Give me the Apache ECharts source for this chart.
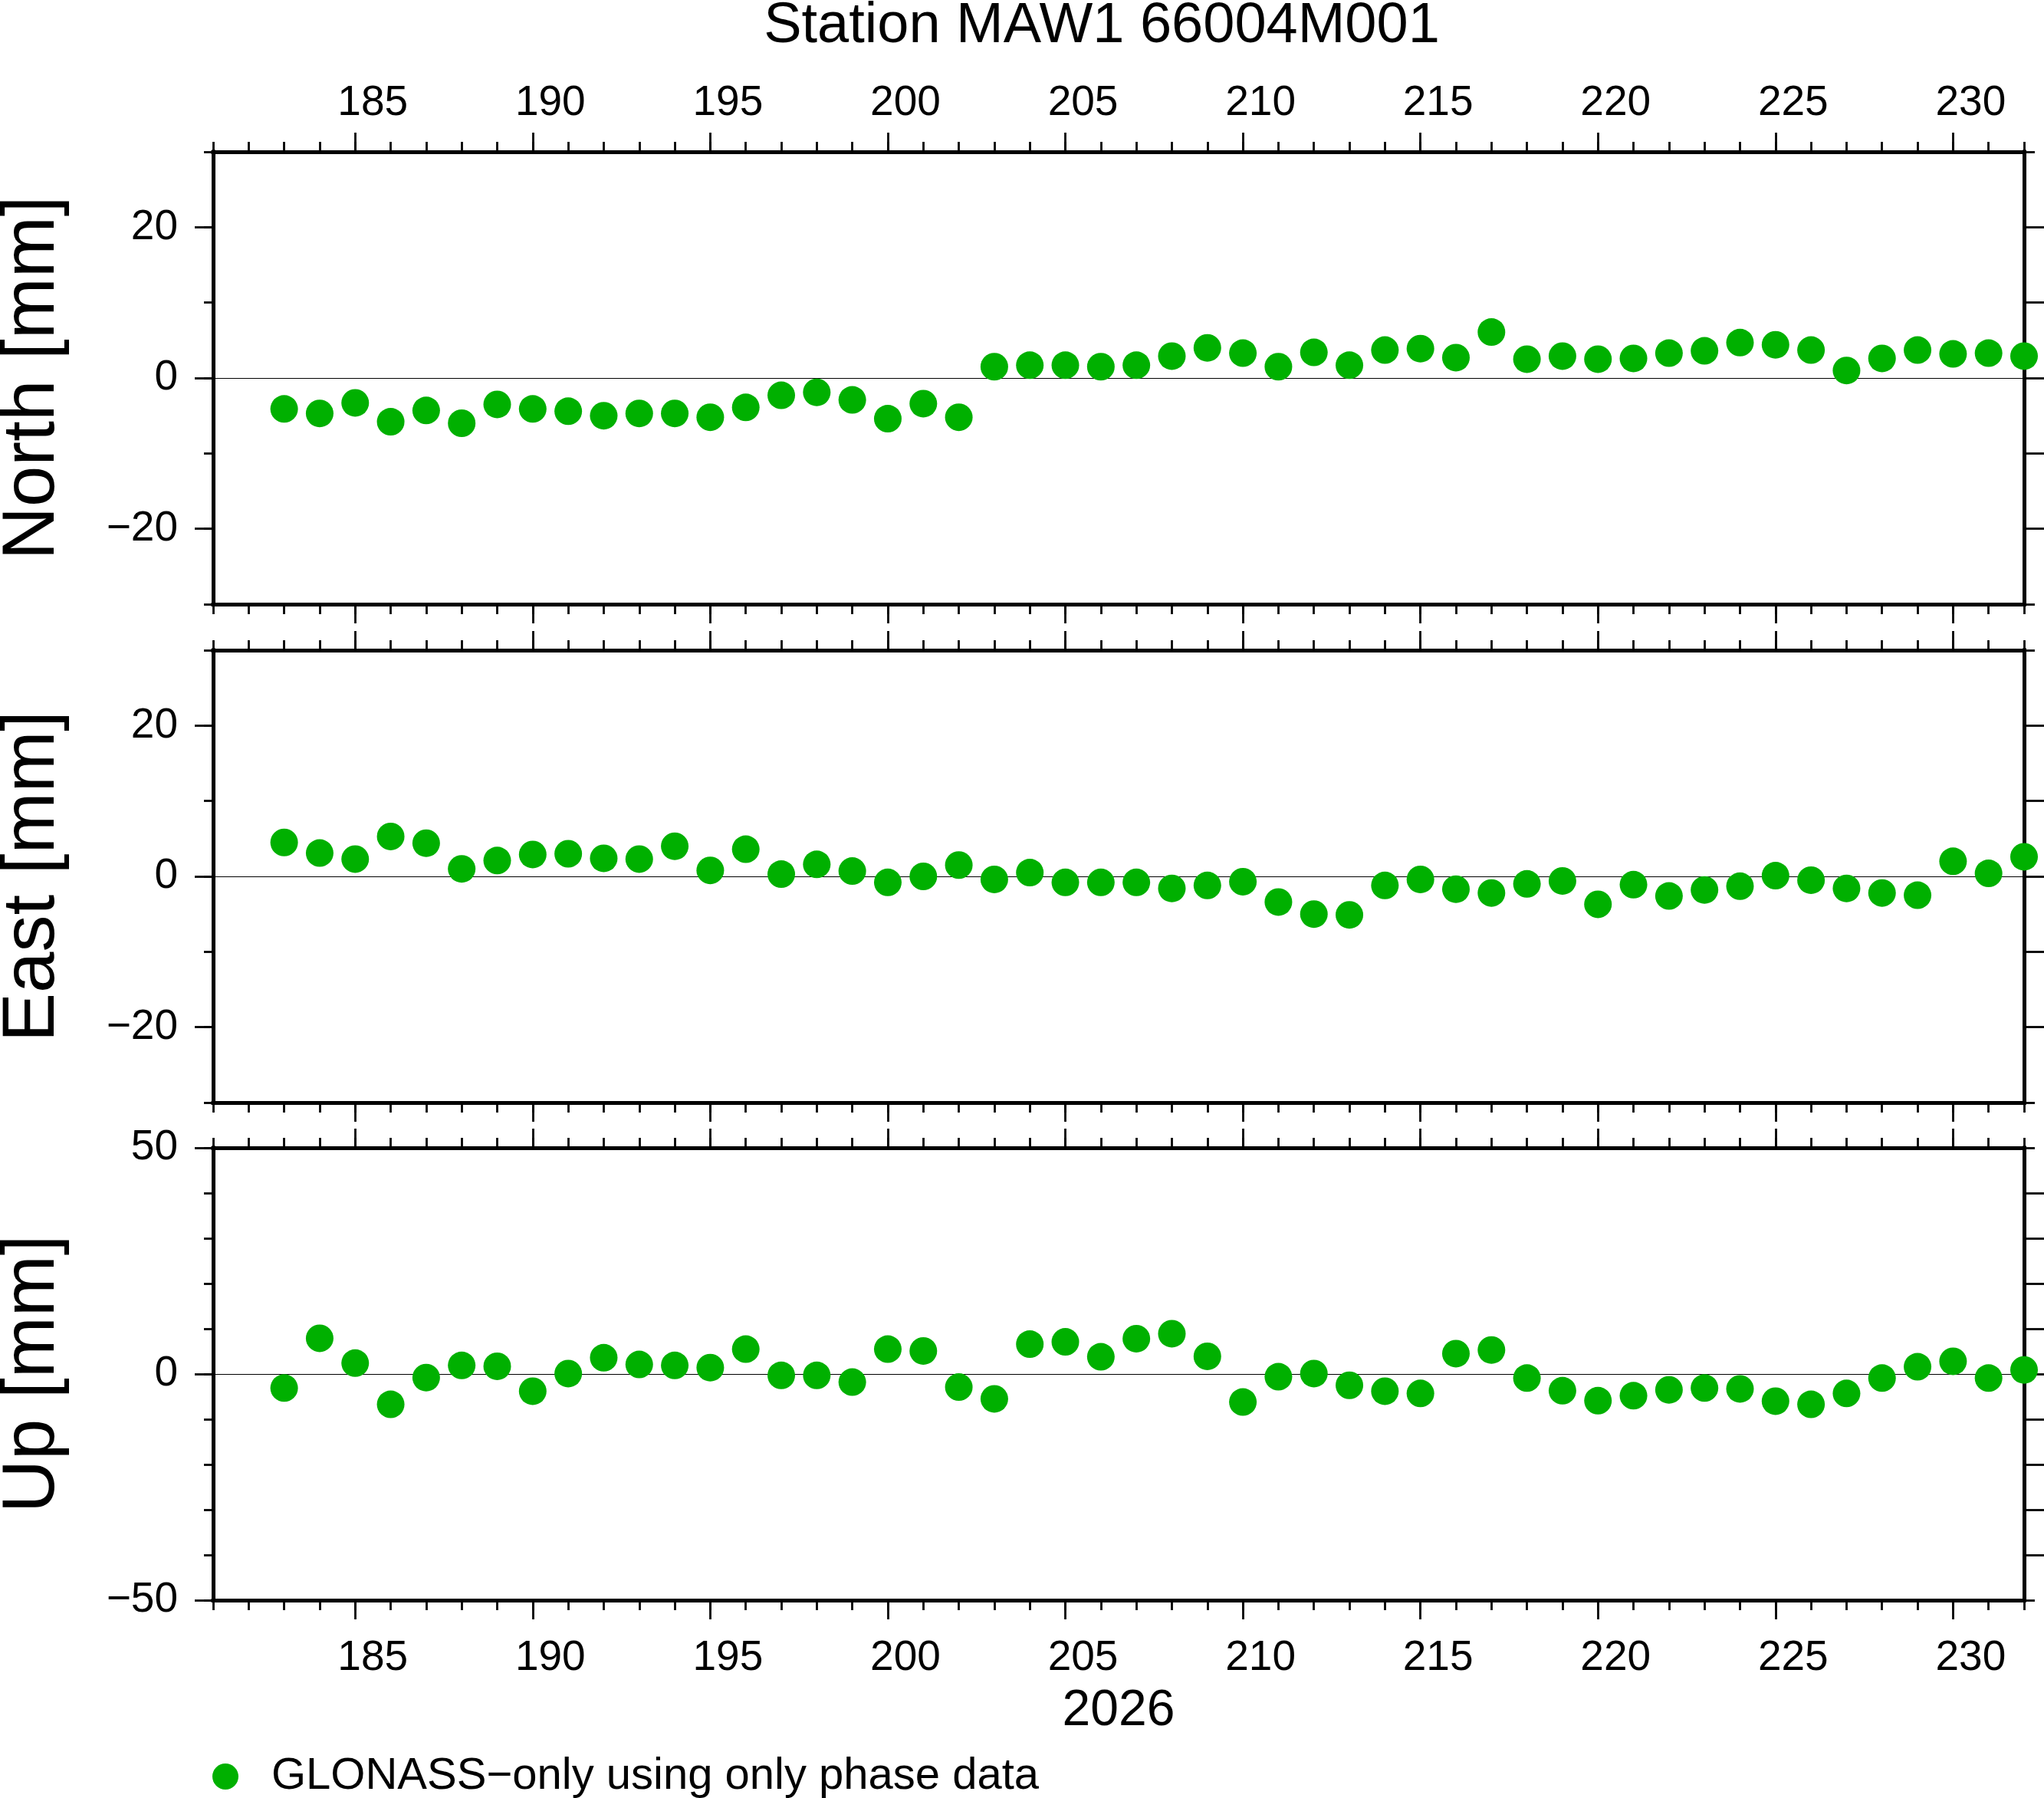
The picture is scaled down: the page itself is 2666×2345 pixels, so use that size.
<!DOCTYPE html>
<html><head><meta charset="utf-8">
<script src="https://cdn.jsdelivr.net/npm/echarts@6/dist/echarts.min.js"></script>
<style>html,body{margin:0;padding:0;background:#fff}#c{width:2666px;height:2345px}</style>
</head><body><div id="c"></div>
<script>
// ---- data (day of year 2026) ----
const days = [183,184,185,186,187,188,189,190,191,192,193,194,195,196,197,198,199,200,201,202,
  203,204,205,206,207,208,209,210,211,212,213,214,215,216,217,218,219,220,221,222,
  223,224,225,226,227,228,229,230,231,232];
const north = [-4.1,-4.7,-3.3,-5.8,-4.3,-6.0,-3.5,-4.1,-4.4,-5.0,-4.7,-4.7,-5.2,-3.9,-2.3,-1.9,-2.9,-5.4,-3.4,-5.2,
  1.5,1.7,1.7,1.5,1.7,2.9,4.0,3.3,1.5,3.4,1.7,3.7,3.9,2.7,6.1,2.5,2.9,2.5,2.6,3.3,
  3.6,4.7,4.4,3.7,1.0,2.6,3.7,3.2,3.3,2.9];
const east = [4.5,3.1,2.3,5.3,4.4,1.0,2.1,2.9,3.0,2.4,2.3,4.0,0.8,3.6,0.3,1.6,0.7,-0.8,0.0,1.5,
  -0.4,0.5,-0.8,-0.8,-0.8,-1.6,-1.2,-0.7,-3.4,-5.0,-5.1,-1.2,-0.4,-1.7,-2.2,-1.0,-0.6,-3.7,-1.1,-2.6,
  -1.8,-1.3,0.1,-0.5,-1.6,-2.2,-2.5,2.0,0.4,2.6];
const up = [-3.1,7.9,2.4,-6.7,-0.8,1.9,1.7,-3.8,0.1,3.6,2.1,1.9,1.4,5.5,-0.3,-0.3,-1.8,5.5,5.1,-2.9,
  -5.5,6.6,7.1,3.8,7.8,8.9,3.9,-6.2,-0.6,0.1,-2.5,-3.8,-4.3,4.5,5.3,-0.9,-3.7,-5.9,-4.8,-3.5,
  -3.1,-3.3,-6.0,-6.7,-4.3,-0.9,1.6,2.8,-0.9,0.9];

// ---- axes / labels ----
const xRange = [181, 232];
const xMajorTicks = [185,190,195,200,205,210,215,220,225,230];
const panelNames = ['North [mm]', 'East [mm]', 'Up [mm]'];
const panelRanges = [[-30,30], [-30,30], [-50,50]];
const panelLabelTicks = [[-20,0,20], [-20,0,20], [-50,0,50]];
const panelRightTicks = [[-20,-10,0,10,20], [-20,-10,0,10,20], [-40,-30,-20,-10,0,10,20,30,40]];
const yearLabel = '2026';
const titleText = 'Station MAW1 66004M001';
const seriesName = 'GLONASS\u2212only using only phase data';
const panelData = [north, east, up];

// ---- layout / style ----
const FONT = 'Liberation Sans';
const GREEN = '#00b000';
const LEFT = 278, PW = 2362, PH = 590;
const panelTops = [198, 848, 1497];
const LW = 5, TW = 2.8;
const minus = v => String(v).replace('-', '\u2212');

const grids = [], xAxes = [], yAxes = [], series = [];
const noLine = { show: false, onZero: false };
panelTops.forEach((top, p) => {
  grids.push({ left: LEFT, top: top, width: PW, height: PH, containLabel: false, outerBoundsMode: 'none' });
  const base = { gridIndex: p, type: 'value', min: xRange[0], max: xRange[1], splitLine: { show: false } };
  const line = { show: true, onZero: false, lineStyle: { color: '#000', width: LW, cap: 'square' } };
  const lbl = (show, margin) => ({
    show: show, customValues: xMajorTicks, margin: margin, fontSize: 55, fontFamily: FONT,
    color: '#000', padding: [0, 0, 0, 46]
  });
  // bottom major
  xAxes.push(Object.assign({}, base, {
    position: 'bottom', axisLine: line,
    axisTick: { show: true, customValues: xMajorTicks, length: 25, lineStyle: { color: '#000', width: TW } },
    axisLabel: lbl(p === 2, 48),
    name: p === 2 ? yearLabel : '', nameLocation: 'middle', nameGap: 112,
    nameTextStyle: { fontSize: 66, fontFamily: FONT, color: '#000' }
  }));
  // bottom minor
  xAxes.push(Object.assign({}, base, {
    position: 'bottom', interval: 1, axisLine: noLine,
    axisTick: { show: true, length: 13, lineStyle: { color: '#000', width: TW } },
    axisLabel: { show: false }
  }));
  // top major
  xAxes.push(Object.assign({}, base, {
    position: 'top', axisLine: line,
    axisTick: { show: true, customValues: xMajorTicks, length: 25, lineStyle: { color: '#000', width: TW } },
    axisLabel: lbl(p === 0, 36)
  }));
  // top minor
  xAxes.push(Object.assign({}, base, {
    position: 'top', interval: 1, axisLine: noLine,
    axisTick: { show: true, length: 13, lineStyle: { color: '#000', width: TW } },
    axisLabel: { show: false }
  }));

  const yr = panelRanges[p];
  const ybase = { gridIndex: p, type: 'value', min: yr[0], max: yr[1], splitLine: { show: false } };
  // left major with labels and name
  yAxes.push(Object.assign({}, ybase, {
    position: 'left', axisLine: line,
    axisTick: { show: true, customValues: panelLabelTicks[p], length: 24, lineStyle: { color: '#000', width: TW } },
    axisLabel: { show: true, customValues: panelLabelTicks[p], margin: 46, fontSize: 55, fontFamily: FONT,
      color: '#000', formatter: minus },
    name: panelNames[p], nameLocation: 'middle', nameGap: 186, nameRotate: 90,
    nameTextStyle: { fontSize: 96, fontFamily: FONT, color: '#000' }
  }));
  // left minor
  yAxes.push(Object.assign({}, ybase, {
    position: 'left', interval: 10, axisLine: noLine,
    axisTick: { show: true, length: 12, lineStyle: { color: '#000', width: TW } },
    axisLabel: { show: false }
  }));
  // right long ticks
  yAxes.push(Object.assign({}, ybase, {
    position: 'right', axisLine: line,
    axisTick: { show: true, customValues: panelRightTicks[p], length: 26, lineStyle: { color: '#000', width: TW } },
    axisLabel: { show: false }
  }));
  // right corner ticks
  yAxes.push(Object.assign({}, ybase, {
    position: 'right', axisLine: noLine,
    axisTick: { show: true, customValues: [yr[0], yr[1]], length: 14, lineStyle: { color: '#000', width: TW } },
    axisLabel: { show: false }
  }));

  series.push({
    name: seriesName, type: 'scatter', xAxisIndex: 4 * p, yAxisIndex: 4 * p,
    data: days.map((d, i) => [d, panelData[p][i]]),
    symbol: 'circle', symbolSize: 36, itemStyle: { color: GREEN, opacity: 1 },
    z: 3, silent: true,
    markLine: {
      silent: true, symbol: 'none', z: 1, label: { show: false },
      lineStyle: { color: '#000', width: 1.2, type: 'solid' },
      emphasis: { disabled: true },
      data: [{ yAxis: 0 }]
    }
  });
});

const chart = echarts.init(document.getElementById('c'), null, { renderer: 'canvas' });
chart.setOption({
  animation: false,
  backgroundColor: '#fff',
  title: {
    text: titleText, left: 1437, top: -2, textAlign: 'center', padding: 0,
    textStyle: { fontSize: 74, fontWeight: 'normal', fontFamily: FONT, color: '#000' }
  },
  legend: {
    left: 277, top: 2288, padding: 0, itemWidth: 34, itemHeight: 34, icon: 'circle',
    data: [seriesName], selectedMode: false,
    textStyle: { fontSize: 58, fontFamily: FONT, color: '#000', padding: [0, 0, 0, 38] }
  },
  grid: grids, xAxis: xAxes, yAxis: yAxes, series: series
});
</script></body></html>
